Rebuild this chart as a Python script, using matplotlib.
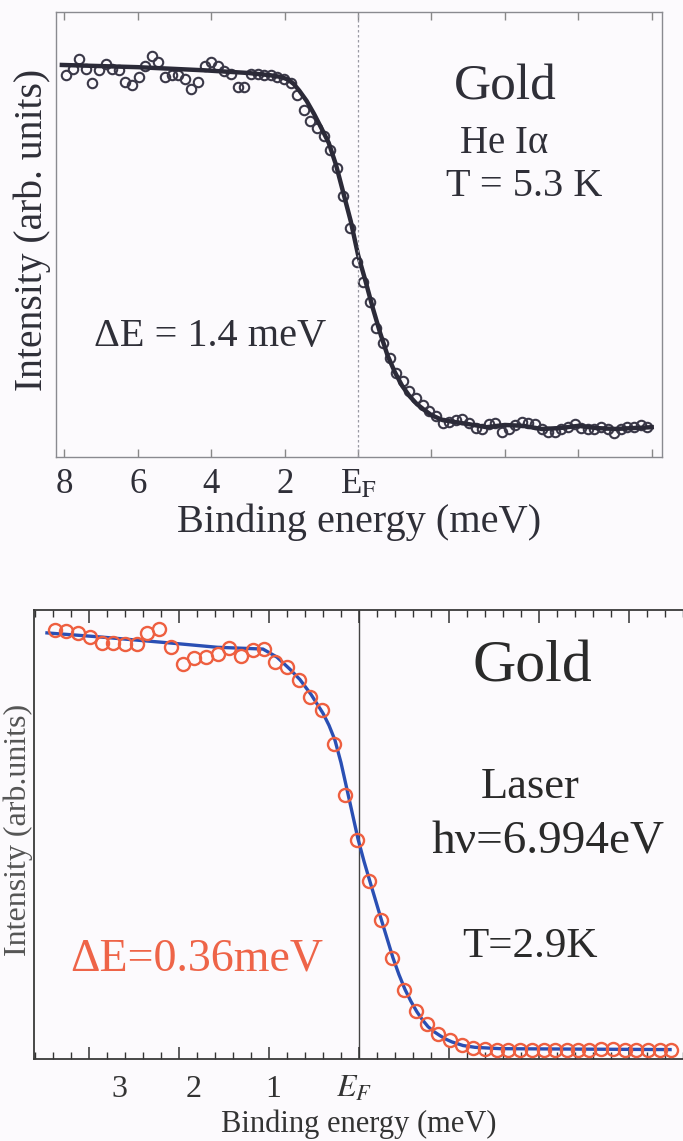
import matplotlib
matplotlib.use('Agg')
from matplotlib import pyplot as plt
from matplotlib.ticker import MultipleLocator
import numpy as np

# He I alpha spectrum (top panel), binding energy in meV, intensity in arb. units
he_energy = [7.96, 7.78, 7.60, 7.42, 7.24, 7.06, 6.88, 6.70, 6.52, 6.34,
             6.16, 5.98, 5.80, 5.62, 5.44, 5.26, 5.08, 4.90, 4.72, 4.54,
             4.36, 4.18, 4.00, 3.82, 3.64, 3.46, 3.28, 3.10, 2.92, 2.74,
             2.56, 2.38, 2.20, 2.02, 1.84, 1.66, 1.48, 1.30, 1.12, 0.94,
             0.76, 0.58, 0.40, 0.22, 0.04, -0.14, -0.32, -0.50, -0.68, -0.86,
             -1.04, -1.22, -1.40, -1.58, -1.76, -1.94, -2.12, -2.30, -2.48, -2.66,
             -2.84, -3.02, -3.20, -3.38, -3.56, -3.74, -3.92, -4.10, -4.28, -4.46,
             -4.64, -4.82, -5.00, -5.18, -5.36, -5.54, -5.72, -5.90, -6.08, -6.26,
             -6.44, -6.62, -6.80, -6.98, -7.16, -7.34, -7.52, -7.70, -7.88]
he_intensity = [0.858, 0.873, 0.894, 0.871, 0.841, 0.870, 0.883, 0.873, 0.870, 0.842,
                0.836, 0.855, 0.879, 0.901, 0.888, 0.855, 0.858, 0.858, 0.849, 0.826,
                0.842, 0.879, 0.888, 0.879, 0.868, 0.861, 0.832, 0.831, 0.861, 0.860,
                0.858, 0.858, 0.855, 0.849, 0.840, 0.813, 0.780, 0.755, 0.739, 0.721,
                0.690, 0.649, 0.587, 0.515, 0.438, 0.393, 0.348, 0.290, 0.256, 0.222,
                0.189, 0.171, 0.148, 0.133, 0.117, 0.103, 0.092, 0.077, 0.079, 0.083,
                0.085, 0.076, 0.066, 0.062, 0.074, 0.077, 0.057, 0.064, 0.072, 0.079,
                0.077, 0.074, 0.063, 0.057, 0.057, 0.063, 0.068, 0.074, 0.066, 0.062,
                0.064, 0.068, 0.063, 0.055, 0.062, 0.068, 0.068, 0.072, 0.068]
he_fit_energy = [8.07, 6.0, 4.2, 3.0, 2.4, 2.1, 1.9, 1.75, 1.6, 1.4, 1.2, 1.0, 0.8, 0.6, 0.4, 0.2,
                 0.0, -0.2, -0.4, -0.6, -0.8, -1.0, -1.2, -1.4, -1.6, -1.8, -2.0, -2.3, -2.6,
                 -3.0, -3.5, -4.0, -4.5, -5.0, -5.5, -6.0, -6.5, -7.0, -7.5, -8.0]
he_fit = [0.881, 0.876, 0.869, 0.863, 0.858, 0.854, 0.848, 0.838, 0.823, 0.800, 0.771, 0.739,
          0.706, 0.656, 0.593, 0.530, 0.454, 0.396, 0.335, 0.279, 0.229, 0.191, 0.160, 0.137,
          0.119, 0.106, 0.094, 0.083, 0.079, 0.074, 0.067, 0.072, 0.070, 0.063, 0.065, 0.070,
          0.065, 0.063, 0.065, 0.067]

# laser spectrum (bottom panel)
laser_energy = [3.38, 3.25, 3.12, 2.99, 2.86, 2.73, 2.60, 2.47, 2.35, 2.22,
                2.09, 1.96, 1.83, 1.70, 1.57, 1.44, 1.31, 1.18, 1.05, 0.93,
                0.80, 0.67, 0.54, 0.41, 0.28, 0.15, 0.02, -0.11, -0.24, -0.37,
                -0.50, -0.63, -0.76, -0.88, -1.01, -1.14, -1.27, -1.40, -1.53, -1.66,
                -1.79, -1.92, -2.05, -2.18, -2.31, -2.43, -2.56, -2.69, -2.82, -2.95,
                -3.08, -3.21, -3.34, -3.47]
laser_intensity = [0.955, 0.954, 0.948, 0.939, 0.927, 0.927, 0.924, 0.924, 0.949, 0.957,
                   0.918, 0.879, 0.892, 0.896, 0.902, 0.915, 0.897, 0.911, 0.913, 0.885,
                   0.873, 0.845, 0.806, 0.777, 0.701, 0.589, 0.487, 0.397, 0.310, 0.224,
                   0.153, 0.107, 0.077, 0.056, 0.042, 0.031, 0.024, 0.022, 0.021, 0.020,
                   0.021, 0.020, 0.021, 0.021, 0.020, 0.021, 0.020, 0.022, 0.022, 0.021,
                   0.020, 0.021, 0.021, 0.021]
laser_fit_energy = [3.467, 2.878, 2.067, 1.578, 1.067, 0.911, 0.767, 0.656, 0.533, 0.400,
                    0.333, 0.267, 0.200, 0.133, 0.072, 0.011, -0.056, -0.122, -0.189, -0.256,
                    -0.317, -0.378, -0.444, -0.511, -0.578, -0.644, -0.706, -0.767, -0.833,
                    -0.900, -0.967, -1.033, -1.156, -1.289, -1.567, -2.456, -3.456]
laser_fit = [0.949, 0.940, 0.926, 0.917, 0.913, 0.895, 0.868, 0.845, 0.812, 0.770,
             0.743, 0.710, 0.660, 0.600, 0.545, 0.490, 0.440, 0.395, 0.350, 0.305,
             0.265, 0.225, 0.188, 0.155, 0.128, 0.105, 0.087, 0.072, 0.061,
             0.052, 0.044, 0.038, 0.030, 0.026, 0.023, 0.022, 0.021]

# bottom tick labels sit a bit off the tick marks in the original
laser_label_pos = [2.667, 1.833, 0.956, 0.05]
laser_label_txt = ['3', '2', '1', r'$E_F$']

bg = '#fcfafd'
plt.rcParams['font.family'] = ['Liberation Serif', 'STIXGeneral', 'DejaVu Serif']
plt.rcParams['mathtext.fontset'] = 'stix'

fig = plt.figure(figsize=(6.83, 11.41), dpi=100, facecolor=bg)

# ---- top panel ----
ax1 = fig.add_axes([56 / 683, 1 - 457 / 1141, 606 / 683, 445 / 1141], facecolor=bg)
ax1.plot(he_energy, he_intensity, 'o', ms=6.8, mfc='none', mec='#3a3848', mew=1.5)
ax1.plot(he_fit_energy, he_fit, '-', color='#2b2a38', lw=3.2)
ax1.axvline(0, color='#9a9aa4', lw=0.9, ls=(0, (2, 2)))
ax1.set_xlim(8.23, -8.28)
ax1.set_ylim(0, 1)
ax1.set_xticks([8, 6, 4, 2, 0, -2, -4, -6, -8])
ax1.set_xticklabels(['8', '6', '4', '2', r'E$_\mathrm{F}$', '', '', '', ''])
ax1.set_yticks([])
ax1.tick_params(axis='x', direction='in', length=6, width=1, color='#888888',
                top=True, labelsize=25, pad=8, labelcolor='#2f2f38')
for s in ax1.spines.values():
    s.set_color('#8a8a90')
    s.set_linewidth(1.0)
ax1.set_xlabel('Binding energy (meV)', fontsize=29, color='#2f2f38')
ax1.xaxis.label.set_verticalalignment('center')
ax1.xaxis.set_label_coords(0.5, -0.146)
ax1.set_ylabel('Intensity (arb. units)', fontsize=28.5, color='#2f2f38')
ax1.yaxis.label.set_verticalalignment('center')
ax1.yaxis.set_label_coords(-0.0396, 0.51)

ax1.text(0.741, 0.830, 'Gold', transform=ax1.transAxes, fontsize=37,
         ha='center', va='center', color='#2f2f38')
ax1.text(0.739, 0.704, 'He Iα', transform=ax1.transAxes, fontsize=28,
         ha='center', va='center', color='#2f2f38')
ax1.text(0.772, 0.607, 'T = 5.3 K', transform=ax1.transAxes, fontsize=29,
         ha='center', va='center', color='#2f2f38')
ax1.text(0.254, 0.270, 'ΔE = 1.4 meV', transform=ax1.transAxes, fontsize=29,
         ha='center', va='center', color='#2f2f38')

# ---- bottom panel ----
ax2 = fig.add_axes([34 / 683, 1 - 1059 / 1141, 650 / 683, 449 / 1141], facecolor=bg)
ax2.plot(laser_fit_energy, laser_fit, '-', color='#2a4fb4', lw=2.4, zorder=2)
ax2.plot(laser_energy, laser_intensity, 'o', ms=9.4, mfc='none', mec='#ee5f40', mew=1.7, zorder=3)
ax2.axvline(0, color='#444444', lw=1.0, zorder=1)
ax2.set_xlim(3.611, -3.611)
ax2.set_ylim(0, 1)
ax2.xaxis.set_major_locator(MultipleLocator(1))
ax2.xaxis.set_minor_locator(MultipleLocator(0.2))
ax2.set_xticklabels([])
ax2.set_yticks([])
ax2.tick_params(axis='x', which='major', direction='in', length=9, width=1.1,
                color='#333333', top=True)
ax2.tick_params(axis='x', which='minor', direction='in', length=5, width=1.0,
                color='#333333', top=True)
for s in ax2.spines.values():
    s.set_color('#3a3a3a')
    s.set_linewidth(1.3)
for pos, txt in zip(laser_label_pos, laser_label_txt):
    ax2.text(pos, -0.067, txt, transform=ax2.get_xaxis_transform(), fontsize=23,
             ha='center', va='center', color='#333333')
ax2.set_xlabel('Binding energy (meV)', fontsize=22, color='#333333')
ax2.xaxis.label.set_verticalalignment('center')
ax2.xaxis.set_label_coords(0.5, -0.145)
ax2.set_ylabel('Intensity (arb.units)', fontsize=23, color='#555555')
ax2.yaxis.label.set_verticalalignment('center')
ax2.yaxis.set_label_coords(-0.0246, 0.51)

ax2.text(0.766, 0.871, 'Gold', transform=ax2.transAxes, fontsize=43,
         ha='center', va='center', color='#2a2a2a')
ax2.text(0.763, 0.606, 'Laser', transform=ax2.transAxes, fontsize=32,
         ha='center', va='center', color='#2a2a2a')
ax2.text(0.791, 0.483, 'hν=6.994eV', transform=ax2.transAxes, fontsize=34,
         ha='center', va='center', color='#2a2a2a')
ax2.text(0.763, 0.249, 'T=2.9K', transform=ax2.transAxes, fontsize=31,
         ha='center', va='center', color='#2a2a2a')
ax2.text(0.251, 0.223, 'ΔE=0.36meV', transform=ax2.transAxes, fontsize=33,
         ha='center', va='center', color='#ee6448')

fig.savefig('out.png', dpi=100, facecolor=bg)
